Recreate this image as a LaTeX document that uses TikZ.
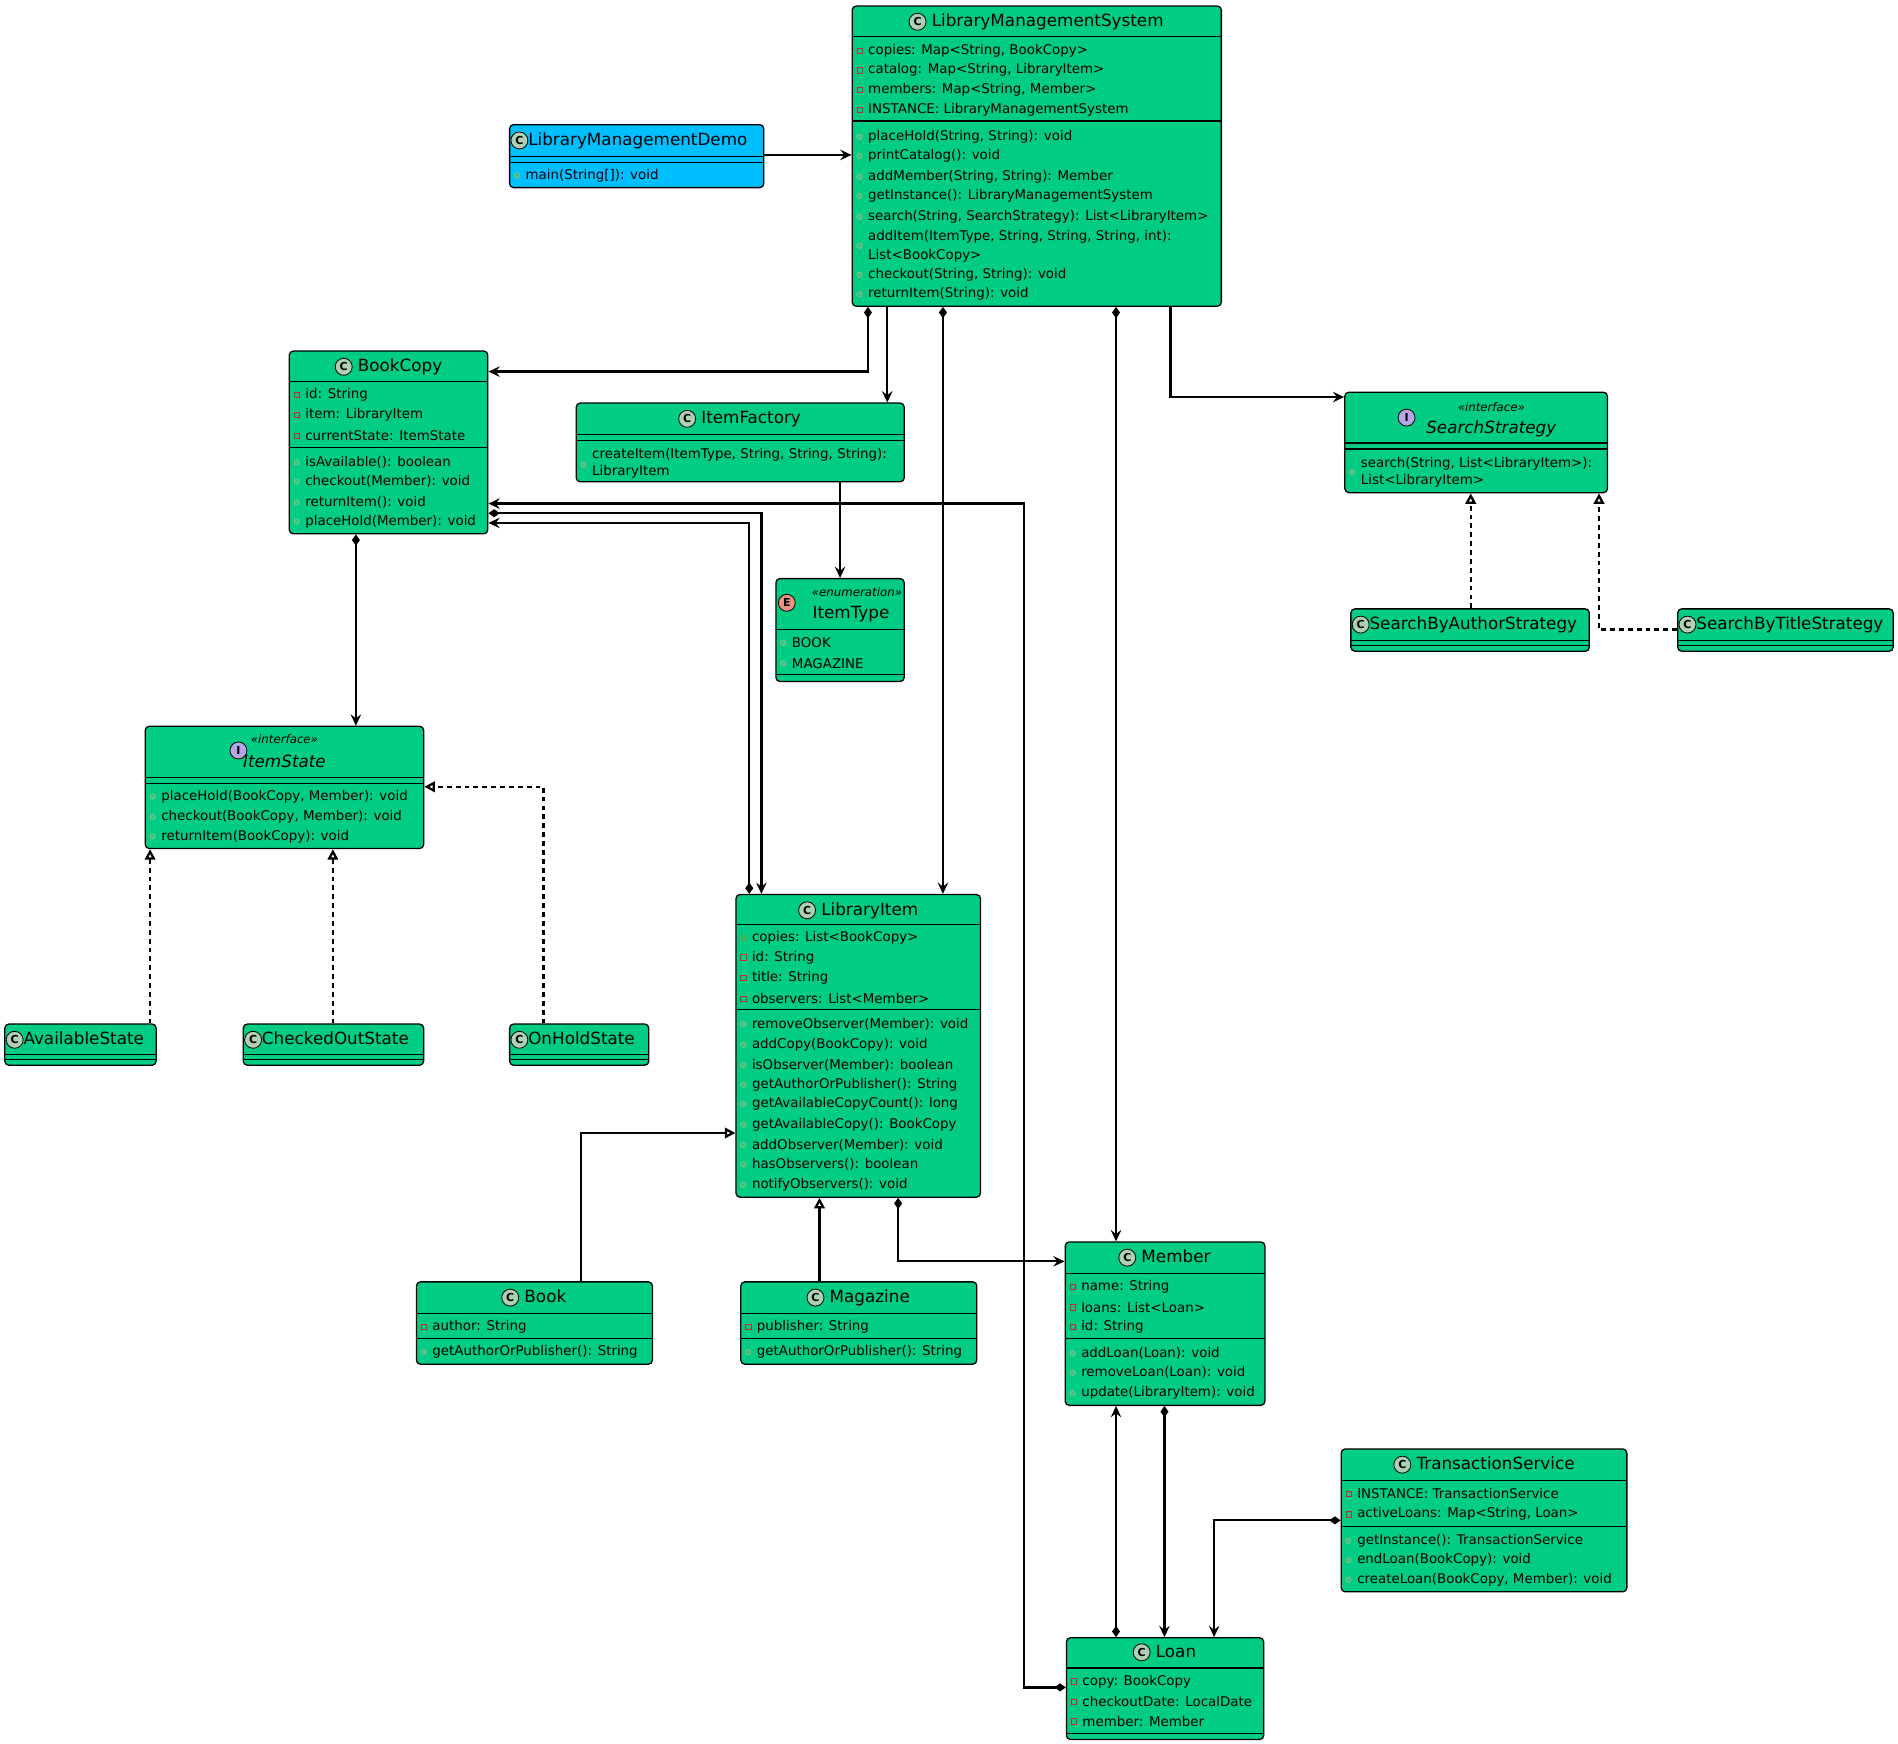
\documentclass[tikz,border=0pt]{standalone}
\usepackage{fontspec}
\setmainfont{DejaVu Sans}
\usetikzlibrary{fit,arrows.meta}
\definecolor{cg}{HTML}{00CC84}
\definecolor{cb}{HTML}{00BFFF}
\definecolor{icC}{HTML}{ADD1B2}
\definecolor{icI}{HTML}{B4A7E5}
\definecolor{icE}{HTML}{EB937F}
\definecolor{pubc}{HTML}{84BE84}
\definecolor{pric}{HTML}{C82930}
\definecolor{proc}{HTML}{B38D22}
\tikzset{
 box/.style={draw,line width=0.8pt,rounded corners=2.5pt,inner sep=0pt},
 rowtxt/.style={anchor=west,inner sep=0pt,font=\fontsize{8.3}{9}\selectfont},
 ttltxt/.style={inner sep=0pt,font=\fontsize{10.4}{12}\selectfont},
 sttxt/.style={inner sep=0pt,font=\itshape\fontsize{7.3}{8}\selectfont},
 conn/.style={line width=1.4pt},
 assoc/.style={conn,-{Stealth[length=7pt,width=6.5pt,inset=2.5pt]}},
 comp/.style={conn,{Diamond[length=7pt,width=5pt]}-{Stealth[length=7pt,width=6.5pt,inset=2.5pt]}},
 real/.style={conn,dashed,dash pattern=on 3pt off 2.5pt,-{Triangle[open,fill=white,length=6.5pt,width=6.5pt]}},
 gen/.style={conn,-{Triangle[open,fill=white,length=6.5pt,width=6.5pt]}},
}
\newcommand\ico[2]{\raisebox{-2.5pt}{\tikz\node[circle,draw,line width=0.5pt,fill=#2,inner sep=0pt,minimum size=10.5pt,font=\bfseries\fontsize{6.8}{7}\selectfont]{#1};}}
\newcommand\cls[6]{\node[box,fill=#6,fit={(#2,#3)(#4,#5)}] (#1) {};}
\newcommand\hl[3]{\draw[line width=0.75pt] (#1,#3) -- (#2,#3);}
\newcommand\pri[3]{\draw[pric,line width=0.45pt] (#1+4,#2-2.2) rectangle (#1+8.4,#2+2.2); \node[rowtxt] at (#1+13,#2) {#3};}
\newcommand\pub[3]{\draw[pubc,fill=pubc!40!cg,line width=0.5pt] (#1+6,#2) circle (2.3); \node[rowtxt] at (#1+13,#2) {#3};}
\newcommand\pro[3]{\draw[proc,line width=0.45pt] (#1+6,#2-2.7) -- (#1+8.7,#2) -- (#1+6,#2+2.7) -- (#1+3.3,#2) -- cycle; \node[rowtxt] at (#1+13,#2) {#3};}
\begin{document}
\begin{tikzpicture}[x=0.75pt,y=-0.75pt]
\useasboundingbox[fill=white] (0,0) rectangle (1568,1440.7);
% LibraryManagementSystem
\cls{lms}{704}{5}{1009}{253}{cg}
\node[ttltxt] at (856,18) {\ico{C}{icC}\ LibraryManagementSystem};
\hl{704}{1009}{30}
\pri{704}{42}{copies: Map<String, BookCopy>}
\pri{704}{58}{catalog: Map<String, LibraryItem>}
\pri{704}{74}{members: Map<String, Member>}
\pri{704}{91}{INSTANCE: LibraryManagementSystem}
\hl{704}{1009}{100}
\pub{704}{113}{placeHold(String, String): void}
\pub{704}{129}{printCatalog(): void}
\pub{704}{146}{addMember(String, String): Member}
\pub{704}{162}{getInstance(): LibraryManagementSystem}
\pub{704}{179}{search(String, SearchStrategy): List<LibraryItem>}
\pub{704}{203}{}
\node[rowtxt] at (717,196) {addItem(ItemType, String, String, String, int):};
\node[rowtxt] at (717,211) {List<BookCopy>};
\pub{704}{227}{checkout(String, String): void}
\pub{704}{243}{returnItem(String): void}
% Demo
\cls{demo}{421}{103}{631}{155}{cb}
\node[ttltxt,anchor=west] at (421.5,116) {\ico{C}{icC}LibraryManagementDemo};
\hl{421}{631}{129}\hl{421}{631}{134}
\pub{421}{145}{main(String[]): void}
% BookCopy
\cls{bc}{239}{290}{403}{441}{cg}
\node[ttltxt] at (321,303) {\ico{C}{icC}\ BookCopy};
\hl{239}{403}{315}
\pri{239}{326}{id: String}
\pri{239}{343}{item: LibraryItem}
\pri{239}{360}{currentState: ItemState}
\hl{239}{403}{370}
\pub{239}{382}{isAvailable(): boolean}
\pub{239}{398}{checkout(Member): void}
\pub{239}{415}{returnItem(): void}
\pub{239}{431}{placeHold(Member): void}
% ItemFactory
\cls{ifac}{476}{333}{747}{398}{cg}
\node[ttltxt] at (611,346) {\ico{C}{icC}\ ItemFactory};
\hl{476}{747}{359}\hl{476}{747}{364}
\pub{476}{384}{}
\node[rowtxt] at (489,376) {createItem(ItemType, String, String, String):};
\node[rowtxt] at (489,390) {LibraryItem};
% ItemType
\cls{ityp}{641}{478}{747}{563}{cg}
\node[sttxt] at (708,489) {«enumeration»};
\node[ttltxt] at (703,507) {ItemType};
\node at (650,498) {\ico{E}{icE}};
\hl{641}{747}{520}
\pub{641}{531}{BOOK}
\pub{641}{548}{MAGAZINE}
\hl{641}{747}{557}
% SearchStrategy
\cls{ss}{1111}{324}{1328}{407}{cg}
\node[sttxt] at (1232,336) {«interface»};
\node[ttltxt,font=\itshape\fontsize{10.4}{12}\selectfont] at (1232,354) {SearchStrategy};
\node at (1162,345) {\ico{I}{icI}};
\hl{1111}{1328}{366}\hl{1111}{1328}{371}
\pub{1111}{390}{}
\node[rowtxt] at (1124,383) {search(String, List<LibraryItem>):};
\node[rowtxt] at (1124,397) {List<LibraryItem>};
% strategies
\cls{sba}{1116}{503}{1313}{538}{cg}
\node[ttltxt,anchor=west] at (1116.5,516) {\ico{C}{icC}SearchByAuthorStrategy};
\hl{1116}{1313}{529}\hl{1116}{1313}{533}
\cls{sbt}{1386}{503}{1564}{538}{cg}
\node[ttltxt,anchor=west] at (1386.5,516) {\ico{C}{icC}SearchByTitleStrategy};
\hl{1386}{1564}{529}\hl{1386}{1564}{533}
% ItemState
\cls{ist}{120}{600}{350}{701}{cg}
\node[sttxt] at (235,611) {«interface»};
\node[ttltxt,font=\itshape\fontsize{10.4}{12}\selectfont] at (235,629) {ItemState};
\node at (197,620) {\ico{I}{icI}};
\hl{120}{350}{642}\hl{120}{350}{647}
\pub{120}{658}{placeHold(BookCopy, Member): void}
\pub{120}{675}{checkout(BookCopy, Member): void}
\pub{120}{691}{returnItem(BookCopy): void}
% states
\cls{avs}{4}{846}{129}{880}{cg}
\node[ttltxt,anchor=west] at (4.5,859) {\ico{C}{icC}AvailableState};
\hl{4}{129}{871}\hl{4}{129}{875}
\cls{cos}{201}{846}{350}{880}{cg}
\node[ttltxt,anchor=west] at (201.5,859) {\ico{C}{icC}CheckedOutState};
\hl{201}{350}{871}\hl{201}{350}{875}
\cls{ohs}{421}{846}{536}{880}{cg}
\node[ttltxt,anchor=west] at (421.5,859) {\ico{C}{icC}OnHoldState};
\hl{421}{536}{871}\hl{421}{536}{875}
% LibraryItem
\cls{li}{608}{739}{810}{989}{cg}
\node[ttltxt] at (709,752) {\ico{C}{icC}\ LibraryItem};
\hl{608}{810}{764}
\pro{608}{775}{copies: List<BookCopy>}
\pri{608}{791}{id: String}
\pri{608}{808}{title: String}
\pri{608}{825}{observers: List<Member>}
\hl{608}{810}{834}
\pub{608}{846}{removeObserver(Member): void}
\pub{608}{863}{addCopy(BookCopy): void}
\pub{608}{880}{isObserver(Member): boolean}
\pub{608}{896}{getAuthorOrPublisher(): String}
\pub{608}{912}{getAvailableCopyCount(): long}
\pub{608}{929}{getAvailableCopy(): BookCopy}
\pub{608}{946}{addObserver(Member): void}
\pub{608}{962}{hasObservers(): boolean}
\pub{608}{979}{notifyObservers(): void}
% Book
\cls{book}{344}{1059}{539}{1127}{cg}
\node[ttltxt] at (441,1072) {\ico{C}{icC}\ Book};
\hl{344}{539}{1085}
\pri{344}{1096}{author: String}
\hl{344}{539}{1106}
\pub{344}{1117}{getAuthorOrPublisher(): String}
% Magazine
\cls{mag}{612}{1059}{807}{1127}{cg}
\node[ttltxt] at (709,1072) {\ico{C}{icC}\ Magazine};
\hl{612}{807}{1085}
\pri{612}{1096}{publisher: String}
\hl{612}{807}{1106}
\pub{612}{1117}{getAuthorOrPublisher(): String}
% Member
\cls{mem}{880}{1026}{1045}{1161}{cg}
\node[ttltxt] at (962,1039) {\ico{C}{icC}\ Member};
\hl{880}{1045}{1052}
\pri{880}{1063}{name: String}
\pri{880}{1080}{loans: List<Loan>}
\pri{880}{1096}{id: String}
\hl{880}{1045}{1106}
\pub{880}{1118}{addLoan(Loan): void}
\pub{880}{1134}{removeLoan(Loan): void}
\pub{880}{1151}{update(LibraryItem): void}
% TransactionService
\cls{ts}{1108}{1197}{1344}{1315}{cg}
\node[ttltxt] at (1226,1210) {\ico{C}{icC}\ TransactionService};
\hl{1108}{1344}{1223}
\pri{1108}{1234}{INSTANCE: TransactionService}
\pri{1108}{1251}{activeLoans: Map<String, Loan>}
\hl{1108}{1344}{1261}
\pub{1108}{1273}{getInstance(): TransactionService}
\pub{1108}{1289}{endLoan(BookCopy): void}
\pub{1108}{1305}{createLoan(BookCopy, Member): void}
% Loan
\cls{loan}{881}{1353}{1044}{1437}{cg}
\node[ttltxt] at (962,1365) {\ico{C}{icC}\ Loan};
\hl{881}{1044}{1378}
\pri{881}{1389}{copy: BookCopy}
\pri{881}{1406}{checkoutDate: LocalDate}
\pri{881}{1422}{member: Member}
\hl{881}{1044}{1432}
% connectors
\draw[assoc] (demo.east |- 0,128) -- (lms.west |- 0,128);
\draw[comp] (717,0 |- lms.south) -- (717,307) -- (bc.east |- 0,307);
\draw[assoc] (733,0 |- lms.south) -- (733,0 |- ifac.north);
\draw[comp] (779,0 |- lms.south) -- (779,0 |- li.north);
\draw[comp] (922,0 |- lms.south) -- (922,0 |- mem.north);
\draw[assoc] (967,0 |- lms.south) -- (967,328) -- (ss.west |- 0,328);
\draw[assoc] (694,0 |- ifac.south) -- (694,0 |- ityp.north);
\draw[comp] (294,0 |- bc.south) -- (294,0 |- ist.north);
\draw[real] (124,0 |- avs.north) -- (124,0 |- ist.south);
\draw[real] (275,0 |- cos.north) -- (275,0 |- ist.south);
\draw[real] (449,0 |- ohs.north) -- (449,650) -- (ist.east |- 0,650);
\draw[real] (1215,0 |- sba.north) -- (1215,0 |- ss.south);
\draw[real] (sbt.west |- 0,520) -- (1321,520) -- (1321,0 |- ss.south);
\draw[comp] (bc.east |- 0,424) -- (629,424) -- (629,0 |- li.north);
\draw[comp] (619,0 |- li.north) -- (619,432) -- (bc.east |- 0,432);
\draw[comp] (loan.west |- 0,1394) -- (846,1394) -- (846,416) -- (bc.east |- 0,416);
\draw[gen] (480,0 |- book.north) -- (480,936) -- (li.west |- 0,936);
\draw[gen] (677,0 |- mag.north) -- (677,0 |- li.south);
\draw[comp] (742,0 |- li.south) -- (742,1042) -- (mem.west |- 0,1042);
\draw[comp] (922,0 |- loan.north) -- (922,0 |- mem.south);
\draw[comp] (962,0 |- mem.south) -- (962,0 |- loan.north);
\draw[comp] (ts.west |- 0,1256) -- (1003,1256) -- (1003,0 |- loan.north);
\end{tikzpicture}
\end{document}
